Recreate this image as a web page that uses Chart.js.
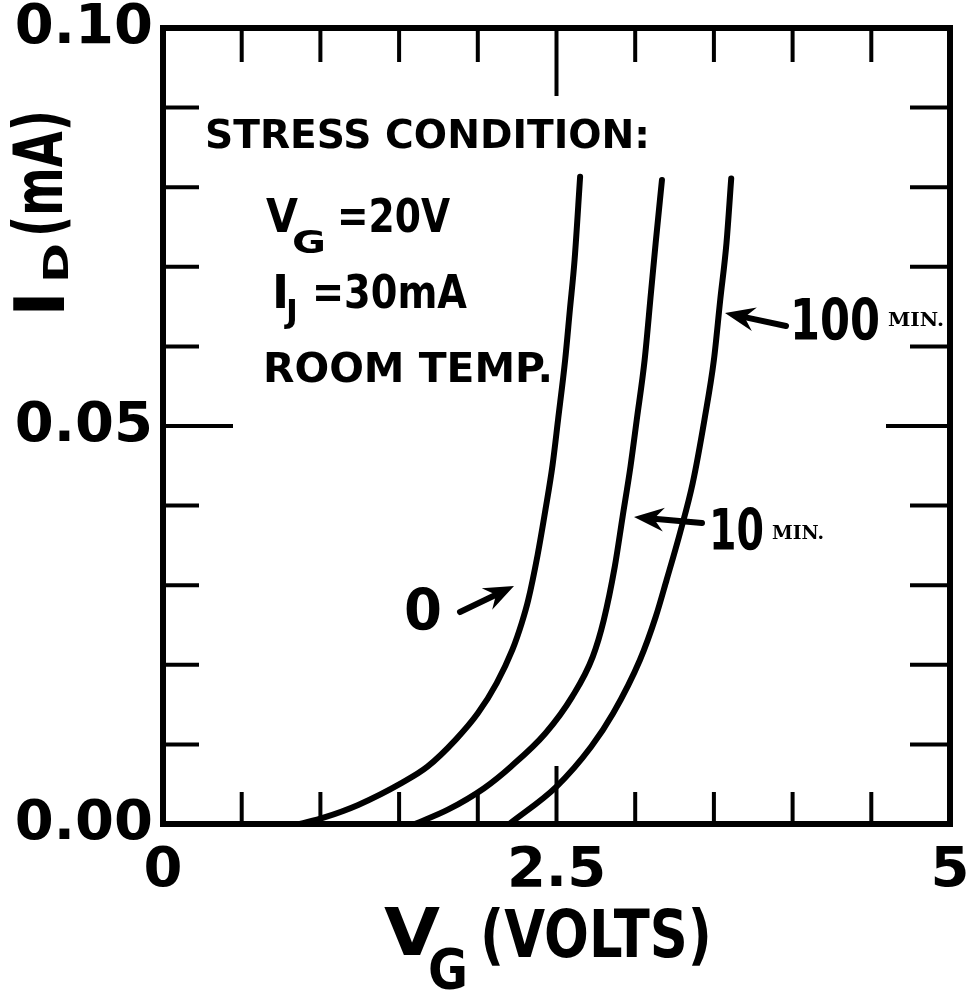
<!DOCTYPE html>
<html>
<head>
<meta charset="utf-8">
<script src="https://cdn.jsdelivr.net/npm/chart.js@4.4.1/dist/chart.umd.min.js"></script>
<style>
  html, body { margin: 0; padding: 0; background: #fff; }
  canvas { display: block; }
</style>
</head>
<body>
<canvas id="c" width="972" height="997" style="width:972px;height:997px"></canvas>
<script>
// Drain current I_D (mA) versus gate voltage V_G (V) after 0, 10 and 100 min of stress
const vgStress0 = [0.87, 1.02, 1.24, 1.52, 1.68, 1.86, 2.00, 2.12, 2.22, 2.28, 2.32, 2.38, 2.43, 2.475, 2.51, 2.555, 2.585, 2.615, 2.65];
const idStress0 = [0, 0.0008, 0.0024, 0.0052, 0.0072, 0.0106, 0.0139, 0.0177, 0.0219, 0.0253, 0.0281, 0.0338, 0.0395, 0.0451, 0.0508, 0.0583, 0.0646, 0.0709, 0.0813];

const vgStress10 = [1.60, 1.81, 2.04, 2.21, 2.43, 2.60, 2.73, 2.80, 2.87, 2.92, 2.97, 3.01, 3.06, 3.10, 3.13, 3.17];
const idStress10 = [0, 0.0018, 0.0045, 0.0072, 0.0114, 0.0160, 0.0210, 0.0256, 0.0323, 0.0386, 0.0449, 0.0508, 0.0583, 0.0667, 0.0730, 0.0809];

const vgStress100 = [2.20, 2.50, 2.72, 2.86, 3.03, 3.13, 3.20, 3.285, 3.365, 3.44, 3.50, 3.54, 3.58, 3.61];
const idStress100 = [0, 0.0047, 0.0097, 0.0139, 0.0206, 0.0260, 0.0307, 0.0366, 0.0428, 0.0508, 0.0583, 0.0658, 0.0730, 0.0811];

// Axis ticks
const vgTickLabels = [0, 2.5, 5];
const idTickLabels = [0, 0.05, 0.10];
const vgMinorTicks = [0.5, 1, 1.5, 2, 3, 3.5, 4, 4.5];
const vgMajorTicks = [2.5];
const idMinorTicks = [0.01, 0.02, 0.03, 0.04, 0.06, 0.07, 0.08, 0.09];
const idMajorTicks = [0.05];

const INK = '#000';
const FONT = '"DejaVu Sans", "Liberation Sans", sans-serif';
const TYPEWRITER = '"DejaVu Serif", "Liberation Serif", serif';

function toPoints(xs, ys) {
  return xs.map((x, i) => ({ x: x, y: ys[i] }));
}

function curve(xs, ys) {
  return {
    data: toPoints(xs, ys),
    showLine: true,
    borderColor: INK,
    borderWidth: 6,
    pointRadius: 0,
    cubicInterpolationMode: 'monotone',
    borderCapStyle: 'round',
    borderJoinStyle: 'round'
  };
}

// Text drawn at a given left/baseline, squeezed or stretched horizontally to a width
function fitText(ctx, text, x, y, size, width, family, weight) {
  ctx.save();
  ctx.font = (weight || 'bold') + ' ' + size + 'px ' + (family || FONT);
  ctx.textAlign = 'left';
  ctx.textBaseline = 'alphabetic';
  const w = ctx.measureText(text).width;
  ctx.translate(x, y);
  if (width) ctx.scale(width / w, 1);
  ctx.fillStyle = INK;
  ctx.fillText(text, 0, 0);
  ctx.restore();
}

function arrow(ctx, tail, tip) {
  const dx = tip[0] - tail[0], dy = tip[1] - tail[1];
  const len = Math.hypot(dx, dy);
  const ux = dx / len, uy = dy / len;
  const nx = -uy, ny = ux;
  const headLen = 30, headW = 12, notch = 20;
  ctx.save();
  ctx.strokeStyle = INK;
  ctx.fillStyle = INK;
  ctx.lineWidth = 6;
  ctx.lineCap = 'round';
  ctx.beginPath();
  ctx.moveTo(tail[0], tail[1]);
  ctx.lineTo(tip[0] - ux * notch, tip[1] - uy * notch);
  ctx.stroke();
  ctx.beginPath();
  ctx.moveTo(tip[0], tip[1]);
  ctx.lineTo(tip[0] - ux * headLen + nx * headW, tip[1] - uy * headLen + ny * headW);
  ctx.lineTo(tip[0] - ux * notch, tip[1] - uy * notch);
  ctx.lineTo(tip[0] - ux * headLen - nx * headW, tip[1] - uy * headLen - ny * headW);
  ctx.closePath();
  ctx.fill();
  ctx.restore();
}

const framePlugin = {
  id: 'frameAndNotes',
  afterDraw(chart) {
    const ctx = chart.ctx;
    const a = chart.chartArea;
    const xs = chart.scales.x, ys = chart.scales.y;

    ctx.save();
    ctx.strokeStyle = INK;
    ctx.lineCap = 'butt';

    // Inward tick marks on all four sides
    ctx.lineWidth = 4;
    const tickX = (vals, lenBottom, lenTop) => vals.forEach(v => {
      const px = xs.getPixelForValue(v);
      ctx.beginPath(); ctx.moveTo(px, a.bottom); ctx.lineTo(px, a.bottom - lenBottom); ctx.stroke();
      ctx.beginPath(); ctx.moveTo(px, a.top); ctx.lineTo(px, a.top + lenTop); ctx.stroke();
    });
    const tickY = (vals, lenLeft, lenRight) => vals.forEach(v => {
      const py = ys.getPixelForValue(v);
      ctx.beginPath(); ctx.moveTo(a.left, py); ctx.lineTo(a.left + lenLeft, py); ctx.stroke();
      ctx.beginPath(); ctx.moveTo(a.right, py); ctx.lineTo(a.right - lenRight, py); ctx.stroke();
    });
    tickX(vgMinorTicks, 32, 34);
    tickX(vgMajorTicks, 58, 68);
    tickY(idMinorTicks, 36, 40);
    tickY(idMajorTicks, 70, 64);

    // Frame
    ctx.lineWidth = 6;
    ctx.lineJoin = 'miter';
    ctx.strokeRect(a.left, a.top, a.right - a.left, a.bottom - a.top);
    ctx.restore();

    // Stress condition block
    fitText(ctx, 'STRESS CONDITION:', 205, 148, 39, 445);
    fitText(ctx, 'V', 266, 232, 46, 32);
    fitText(ctx, 'G', 292, 253, 32, 34);
    fitText(ctx, '=20V', 337, 232, 46, 113);
    fitText(ctx, 'I', 272, 308, 46);
    fitText(ctx, 'J', 286, 322, 32);
    fitText(ctx, '=30mA', 312, 308, 46, 155);
    fitText(ctx, 'ROOM TEMP.', 263, 382, 41, 290);

    // Curve labels with arrows
    arrow(ctx, [786, 326], [725, 313]);
    fitText(ctx, '100', 790, 340, 57, 90);
    fitText(ctx, 'MIN.', 888, 326, 19, 56, TYPEWRITER);

    arrow(ctx, [702, 523], [634, 517]);
    fitText(ctx, '10', 709, 550, 57, 55);
    fitText(ctx, 'MIN.', 772, 539, 19, 52, TYPEWRITER);

    arrow(ctx, [460, 612], [514, 586]);
    fitText(ctx, '0', 404, 630, 57, 38);

    // X axis title: V_G (VOLTS)
    fitText(ctx, 'V', 384, 955, 66, 56);
    fitText(ctx, 'G', 428, 988, 56, 40);
    fitText(ctx, '(VOLTS)', 480, 957, 66, 232);

    // Y axis title: I_D (mA), reading upward
    ctx.save();
    ctx.translate(64, 313);
    ctx.rotate(-Math.PI / 2);
    fitText(ctx, 'I', -4, 0, 70);
    fitText(ctx, 'D', 30, 4, 34, 40);
    fitText(ctx, '(mA)', 76, -2, 68, 127);
    ctx.restore();
  }
};

const tickFont = { family: FONT, size: 56, weight: 'bold' };

new Chart(document.getElementById('c'), {
  type: 'scatter',
  data: {
    datasets: [
      curve(vgStress0, idStress0),
      curve(vgStress10, idStress10),
      curve(vgStress100, idStress100)
    ]
  },
  options: {
    responsive: false,
    animation: false,
    devicePixelRatio: 1,
    layout: { padding: { top: 28, right: 22, left: 0, bottom: 0 } },
    plugins: { legend: { display: false }, tooltip: { enabled: false } },
    scales: {
      x: {
        type: 'linear',
        min: 0,
        max: 5,
        afterBuildTicks: s => { s.ticks = vgTickLabels.map(v => ({ value: v })); },
        afterFit: s => { s.height = 173; s.paddingLeft = 0; s.paddingRight = 0; },
        grid: { display: false, drawTicks: false },
        border: { display: false },
        ticks: {
          color: INK,
          font: tickFont,
          padding: 14,
          maxRotation: 0,
          autoSkip: false,
          callback: v => String(v)
        }
      },
      y: {
        type: 'linear',
        min: 0,
        max: 0.10,
        afterBuildTicks: s => { s.ticks = idTickLabels.map(v => ({ value: v })); },
        afterFit: s => { s.width = 163; s.paddingTop = 0; s.paddingBottom = 0; },
        grid: { display: false, drawTicks: false },
        border: { display: false },
        ticks: {
          color: INK,
          font: tickFont,
          padding: 10,
          autoSkip: false,
          callback: v => v.toFixed(2)
        }
      }
    }
  },
  plugins: [framePlugin]
});
</script>
</body>
</html>
